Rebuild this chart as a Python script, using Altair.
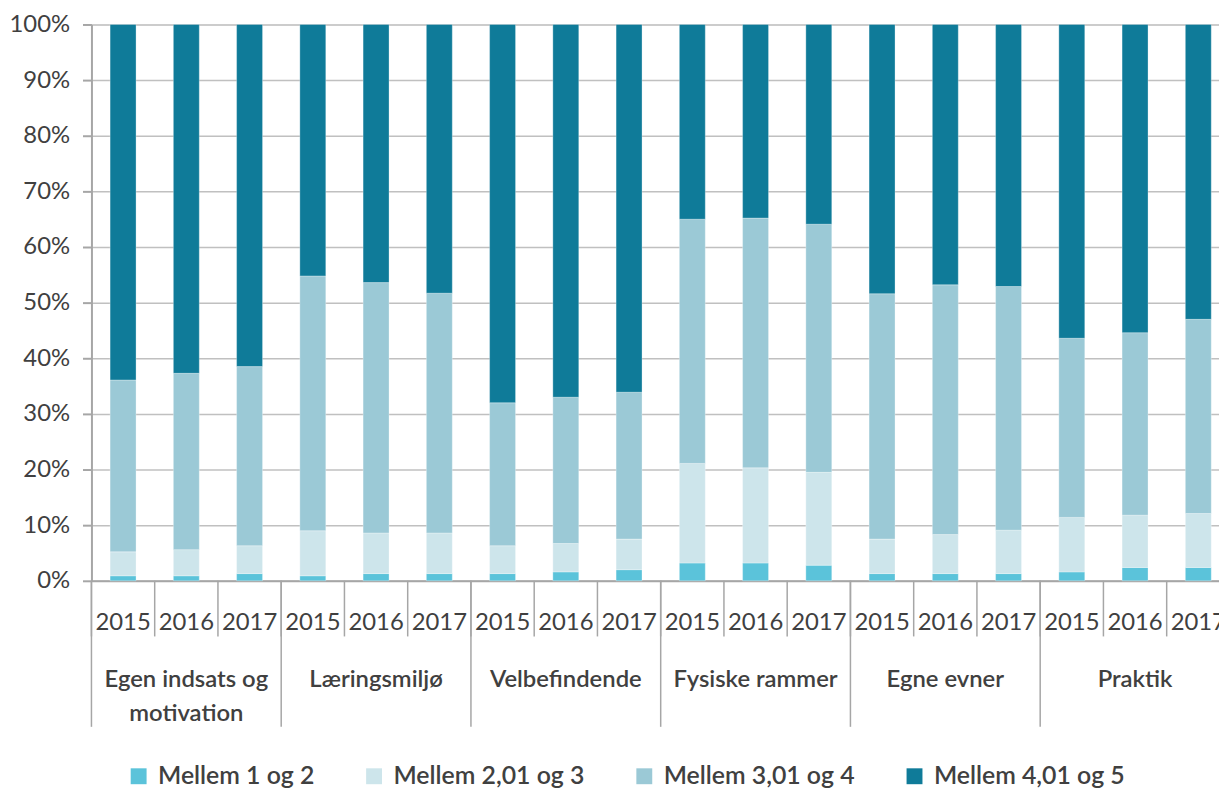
import altair as alt
import pandas as pd

groups_line1 = ["Egen indsats og", "Læringsmiljø", "Velbefindende", "Fysiske rammer", "Egne evner", "Praktik"]
groups_line2 = ["motivation", "", "", "", "", ""]
years = ["2015", "2016", "2017"]
series = ["Mellem 1 og 2", "Mellem 2,01 og 3", "Mellem 3,01 og 4", "Mellem 4,01 og 5"]
colors = ["#5BC3DA", "#CDE5EB", "#9BC9D6", "#0F7B99"]

# percentages per bar (group order, then year order)
s1 = [0.9, 0.9, 1.3, 0.9, 1.3, 1.3, 1.3, 1.6, 2.0, 3.2, 3.2, 2.8, 1.3, 1.3, 1.3, 1.6, 2.4, 2.4]
s2 = [4.3, 4.7, 5.0, 8.1, 7.3, 7.3, 5.0, 5.1, 5.5, 17.9, 17.1, 16.7, 6.2, 7.0, 7.8, 9.8, 9.4, 9.7]
s3 = [30.9, 31.7, 32.2, 45.8, 45.0, 43.1, 25.7, 26.3, 26.4, 43.9, 44.9, 44.6, 44.1, 44.9, 43.8, 32.2, 32.8, 34.9]
s4 = [63.9, 62.7, 61.5, 45.2, 46.4, 48.3, 68.0, 67.0, 66.1, 35.0, 34.8, 35.9, 48.4, 46.8, 47.1, 56.4, 55.4, 53.0]

FONT = "Lato"
TXT = "#404040"
GRAY = "#A6A6A6"

keys = [f"{g}-{y}" for g in range(len(groups_line1)) for y in years]

rows = []
for si, vals in enumerate([s1, s2, s3, s4]):
    for k, v in zip(keys, vals):
        rows.append({"key": k, "series": series[si], "order": si, "value": v})
bars_df = pd.DataFrame(rows)

year_df = pd.DataFrame({"key": keys, "year": [k.split("-")[1] for k in keys]})
group_df = pd.DataFrame({
    "first": [f"{g}-{years[0]}" for g in range(len(groups_line1))],
    "mid": [f"{g}-{years[1]}" for g in range(len(groups_line1))],
    "line1": groups_line1,
    "line2": groups_line2,
})

RANGE = [0, 1146]
bar_scale = alt.Scale(domain=keys, range=RANGE, paddingInner=0.59, paddingOuter=0.295)
slot_scale = alt.Scale(domain=keys, range=RANGE, paddingInner=0, paddingOuter=0)

bars = alt.Chart(bars_df).mark_bar(
    stroke="white", strokeWidth=0.6, strokeOpacity=0.5
).encode(
    x=alt.X("key:N", scale=bar_scale, sort=keys,
            axis=alt.Axis(labels=False, ticks=False, title=None, domain=True,
                          domainColor=GRAY, domainWidth=2, grid=False)),
    y=alt.Y("value:Q", stack="zero",
            scale=alt.Scale(domain=[0, 100], nice=False),
            axis=alt.Axis(values=list(range(0, 101, 10)), labelExpr="datum.value + '%'",
                          title=None, grid=True, gridColor="#C0C0C0", gridWidth=1.5,
                          domainColor=GRAY, domainWidth=2, tickColor=GRAY, tickWidth=2,
                          tickSize=9, labelPadding=13, labelFont=FONT, labelFontSize=24,
                          labelColor=TXT)),
    color=alt.Color("series:N", scale=alt.Scale(domain=series, range=colors),
                    legend=alt.Legend(title=None, orient="none", direction="horizontal",
                                      legendX=35, legendY=744, symbolType="square",
                                      symbolSize=256, symbolStrokeWidth=0,
                                      labelFont=FONT, labelFontSize=25, labelFontWeight=600,
                                      labelColor=TXT, labelOffset=7, columnPadding=47,
                                      labelLimit=0, symbolOpacity=1)),
    order=alt.Order("order:Q", sort="ascending"),
)

year_rules = alt.Chart(year_df).mark_rule(color=GRAY, strokeWidth=1.5).encode(
    x=alt.X("key:N", scale=slot_scale, sort=keys, bandPosition=0, axis=None),
    y=alt.value(560), y2=alt.value(616),
)

group_rules = alt.Chart(group_df).mark_rule(color=GRAY, strokeWidth=1.5).encode(
    x=alt.X("first:N", scale=slot_scale, sort=keys, bandPosition=0, axis=None),
    y=alt.value(560), y2=alt.value(707),
)

year_text = alt.Chart(year_df).mark_text(
    font=FONT, fontSize=24, color=TXT, baseline="middle", align="center"
).encode(
    x=alt.X("key:N", scale=slot_scale, sort=keys, axis=None),
    y=alt.value(603),
    text="year:N",
)

g1 = alt.Chart(group_df).mark_text(
    font=FONT, fontSize=24, fontWeight=600, color=TXT, baseline="middle", align="center"
).encode(
    x=alt.X("mid:N", scale=slot_scale, sort=keys, axis=None),
    y=alt.value(660),
    text="line1:N",
)
g2 = alt.Chart(group_df).mark_text(
    font=FONT, fontSize=24, fontWeight=600, color=TXT, baseline="middle", align="center"
).encode(
    x=alt.X("mid:N", scale=slot_scale, sort=keys, axis=None),
    y=alt.value(694),
    text="line2:N",
)

chart = alt.layer(bars, year_rules, group_rules, year_text, g1, g2).resolve_scale(
    x="independent"
).properties(
    width=1135, height=560,
    autosize=alt.AutoSizeParams(type="none"),
    padding={"left": 84, "top": 14, "right": 0, "bottom": 208},
).configure_view(stroke=None).configure(font=FONT)

chart.save("out.html", embed_options={"renderer": "svg", "actions": False})
